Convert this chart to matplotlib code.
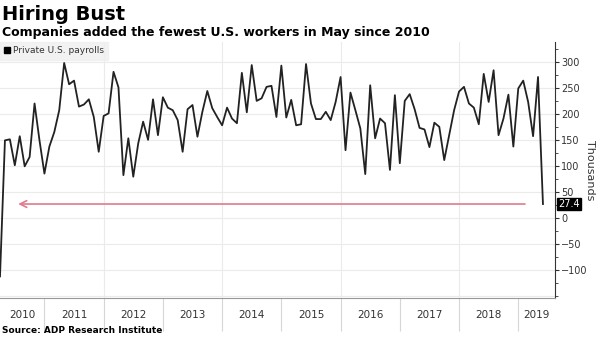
import numpy as np
import matplotlib
matplotlib.use('Agg')
import matplotlib.pyplot as plt
from matplotlib.lines import Line2D
import matplotlib.transforms as mtransforms

# ADP private payrolls, monthly change (thousands), Mar 2010 - May 2019
p2010 = [-112, 150, 152, 102, 158, 100, 118, 221, 150, 86]
p2011 = [138, 166, 208, 299, 258, 265, 215, 219, 229, 195, 128, 197]
p2012 = [202, 282, 252, 83, 154, 80, 144, 186, 151, 229, 160, 233]
p2013 = [213, 208, 189, 128, 210, 218, 157, 205, 245, 212, 195, 179]
p2014 = [213, 192, 183, 280, 204, 295, 226, 231, 253, 255, 195, 294]
p2015 = [194, 228, 179, 181, 297, 221, 191, 191, 205, 189, 224, 272]
p2016 = [131, 242, 208, 173, 85, 256, 154, 192, 183, 93, 237, 106]
p2017 = [226, 239, 210, 174, 171, 137, 184, 176, 112, 160, 208, 244]
p2018 = [253, 221, 213, 181, 278, 224, 285, 160, 192, 238, 138, 250]
p2019 = [265, 224, 158, 272, 27.4]
years = list(range(2010, 2020))
last_value = 27.4

payrolls = p2010 + p2011 + p2012 + p2013 + p2014 + p2015 + p2016 + p2017 + p2018 + p2019
# month-end positions in decimal years, series starts Mar 2010
xs = 2010 + (2 + np.arange(len(payrolls)) + 1) / 12.0

x0, x1 = 2010.25, 2019.62

fig = plt.figure(figsize=(6, 3.37), dpi=100)
ax = fig.add_axes([0.0, 0.1166, 0.925, 0.7597])

ax.plot(xs, payrolls, color='#222222', lw=1.3, zorder=3)

ax.set_xlim(x0, x1)
ax.set_ylim(-153, 340)

# grid
ax.set_yticks(range(-100, 301, 50))
for v in range(-150, 301, 50):
    ax.axhline(v, color='#ebebeb', lw=0.8, zorder=0)
for yr in [2012, 2014, 2016, 2018]:
    ax.axvline(yr, color='#ebebeb', lw=0.8, zorder=0)

ax.yaxis.tick_right()
ax.set_yticks(np.arange(-150, 326, 25), minor=True)
ax.tick_params(axis='y', which='major', length=3, width=0.8, color='#333333',
               labelsize=7, labelcolor='#333333', pad=1.5)
ax.tick_params(axis='y', which='minor', length=2, width=0.6, color='#333333')

# year labels centred in visible part of each year
centers = [(max(y, x0) + min(y + 1, x1)) / 2 for y in years]
ax.set_xticks(centers)
ax.set_xticklabels([str(y) for y in years])
ax.set_xticks(years[1:], minor=True)
ax.tick_params(axis='x', which='major', length=0, labelsize=7.5, labelcolor='#333333', pad=9)
ax.tick_params(axis='x', which='minor', length=24, width=0.8, color='#d6d6d6')

for s in ['top', 'left']:
    ax.spines[s].set_visible(False)
ax.spines['bottom'].set_color('#999999')
ax.spines['right'].set_color('#333333')
ax.spines['right'].set_linewidth(0.8)

# red arrow at latest level
ax.annotate('', xy=(2010.51, last_value), xytext=(2019.16, last_value),
            arrowprops=dict(arrowstyle='->', color='#e07a8e', lw=1.2,
                            mutation_scale=12), zorder=2)

# last value tag
tr = mtransforms.blended_transform_factory(ax.transAxes, ax.transData)
ax.text(1.006, last_value, '27.4', transform=tr, color='white', fontsize=7,
        va='center', ha='left',
        bbox=dict(boxstyle='square,pad=0.12', fc='black', ec='black'))

# legend
h = Line2D([], [], marker='s', color='none', markerfacecolor='black',
           markeredgecolor='black', markersize=4.5)
leg = ax.legend([h], ['Private U.S. payrolls'], loc='upper left',
                bbox_to_anchor=(0, 1), fontsize=6.5, frameon=True,
                handlelength=0.6, handletextpad=0.3, borderpad=0.5,
                borderaxespad=0, fancybox=False)
leg.get_frame().set_facecolor('#efefef')
leg.get_frame().set_edgecolor('#efefef')
for t in leg.get_texts():
    t.set_color('#333333')

fig.text(0.983, 0.1166 + 0.7597 / 2, 'Thousands', rotation=270, fontsize=8,
         color='#333333', va='center', ha='center')

fig.text(0.004, 0.985, 'Hiring Bust', fontsize=14, fontweight='bold',
         va='top', ha='left', color='black')
fig.text(0.004, 0.905, 'Companies added the fewest U.S. workers in May since 2010',
         fontsize=9, fontweight='bold', va='center', ha='left', color='black')
fig.text(0.004, 0.018, 'Source: ADP Research Institute', fontsize=6.5,
         fontweight='bold', va='center', ha='left', color='black')

fig.savefig('out.png', dpi=100)
